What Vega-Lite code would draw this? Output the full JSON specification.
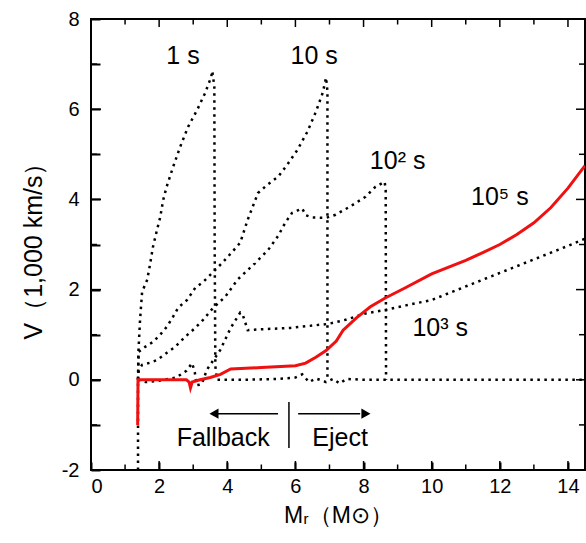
{
  "$schema": "https://vega.github.io/schema/vega-lite/v6.json",
  "width": 494,
  "height": 451,
  "autosize": "none",
  "padding": {"left": 91, "top": 19, "right": 1, "bottom": 73},
  "background": "white",
  "config": {"view": {"stroke": "black", "strokeWidth": 2}, "font": "Liberation Sans", "axis": {"ticks": true, "zindex": 1, "grid": false, "domain": false, "tickColor": "black", "tickWidth": 2, "tickOpacity": 1, "tickRound": true}},
  "datasets": {
    "curves": [
      {"s":"1","i":0,"x":1.38,"y":-2.0},{"s":"1","i":1,"x":1.38,"y":0.0},{"s":"1","i":2,"x":1.39,"y":0.6},{"s":"1","i":3,"x":1.44,"y":1.33},{"s":"1","i":4,"x":1.5,"y":1.95},{"s":"1","i":5,"x":1.65,"y":2.22},{"s":"1","i":6,"x":1.74,"y":2.59},{"s":"1","i":7,"x":1.82,"y":2.95},{"s":"1","i":8,"x":1.94,"y":3.33},{"s":"1","i":9,"x":2.03,"y":3.6},{"s":"1","i":10,"x":2.12,"y":3.99},{"s":"1","i":11,"x":2.22,"y":4.28},{"s":"1","i":12,"x":2.41,"y":4.72},{"s":"1","i":13,"x":2.62,"y":5.17},{"s":"1","i":14,"x":2.85,"y":5.61},{"s":"1","i":15,"x":3.12,"y":5.99},{"s":"1","i":16,"x":3.35,"y":6.36},{"s":"1","i":17,"x":3.53,"y":6.72},{"s":"1","i":18,"x":3.56,"y":6.85},{"s":"1","i":19,"x":3.62,"y":6.5},{"s":"1","i":20,"x":3.63,"y":3.0},{"s":"1","i":21,"x":3.65,"y":0.3},{"s":"1","i":22,"x":3.7,"y":0.0},{"s":"1","i":23,"x":4.5,"y":0.0},{"s":"1","i":24,"x":5.5,"y":0.02},{"s":"1","i":25,"x":6.0,"y":0.05},{"s":"1","i":26,"x":6.2,"y":0.12},{"s":"1","i":27,"x":6.4,"y":-0.05},{"s":"1","i":28,"x":6.6,"y":0.03},{"s":"1","i":29,"x":6.9,"y":-0.05},{"s":"1","i":30,"x":7.1,"y":0.02},{"s":"1","i":31,"x":7.3,"y":-0.08},{"s":"1","i":32,"x":7.5,"y":0.02},{"s":"1","i":33,"x":8.0,"y":0.0},{"s":"1","i":34,"x":14.5,"y":0.0},
      {"s":"10","i":0,"x":1.38,"y":0.0},{"s":"10","i":1,"x":1.4,"y":0.62},{"s":"10","i":2,"x":1.59,"y":0.73},{"s":"10","i":3,"x":1.82,"y":0.84},{"s":"10","i":4,"x":2.03,"y":1.0},{"s":"10","i":5,"x":2.23,"y":1.18},{"s":"10","i":6,"x":2.41,"y":1.4},{"s":"10","i":7,"x":2.56,"y":1.6},{"s":"10","i":8,"x":2.82,"y":1.77},{"s":"10","i":9,"x":3.06,"y":2.04},{"s":"10","i":10,"x":3.29,"y":2.17},{"s":"10","i":11,"x":3.56,"y":2.37},{"s":"10","i":12,"x":3.85,"y":2.59},{"s":"10","i":13,"x":4.15,"y":2.84},{"s":"10","i":14,"x":4.38,"y":3.04},{"s":"10","i":15,"x":4.6,"y":3.55},{"s":"10","i":16,"x":4.9,"y":4.14},{"s":"10","i":17,"x":5.17,"y":4.32},{"s":"10","i":18,"x":5.5,"y":4.51},{"s":"10","i":19,"x":5.76,"y":4.77},{"s":"10","i":20,"x":6.06,"y":5.1},{"s":"10","i":21,"x":6.35,"y":5.5},{"s":"10","i":22,"x":6.6,"y":5.94},{"s":"10","i":23,"x":6.8,"y":6.36},{"s":"10","i":24,"x":6.9,"y":6.7},{"s":"10","i":25,"x":6.94,"y":6.4},{"s":"10","i":26,"x":6.94,"y":0.0},
      {"s":"100","i":0,"x":1.38,"y":0.0},{"s":"100","i":1,"x":1.4,"y":0.2},{"s":"100","i":2,"x":1.5,"y":0.33},{"s":"100","i":3,"x":1.74,"y":0.38},{"s":"100","i":4,"x":1.94,"y":0.44},{"s":"100","i":5,"x":2.23,"y":0.6},{"s":"100","i":6,"x":2.47,"y":0.73},{"s":"100","i":7,"x":2.76,"y":0.95},{"s":"100","i":8,"x":3.06,"y":1.15},{"s":"100","i":9,"x":3.29,"y":1.33},{"s":"100","i":10,"x":3.59,"y":1.6},{"s":"100","i":11,"x":3.94,"y":1.84},{"s":"100","i":12,"x":4.3,"y":2.22},{"s":"100","i":13,"x":4.82,"y":2.59},{"s":"100","i":14,"x":5.2,"y":2.88},{"s":"100","i":15,"x":5.5,"y":3.2},{"s":"100","i":16,"x":5.7,"y":3.48},{"s":"100","i":17,"x":5.9,"y":3.7},{"s":"100","i":18,"x":6.05,"y":3.75},{"s":"100","i":19,"x":6.2,"y":3.8},{"s":"100","i":20,"x":6.3,"y":3.65},{"s":"100","i":21,"x":6.5,"y":3.6},{"s":"100","i":22,"x":6.9,"y":3.59},{"s":"100","i":23,"x":7.18,"y":3.66},{"s":"100","i":24,"x":7.6,"y":3.84},{"s":"100","i":25,"x":8.06,"y":4.06},{"s":"100","i":26,"x":8.35,"y":4.28},{"s":"100","i":27,"x":8.62,"y":4.39},{"s":"100","i":28,"x":8.65,"y":4.2},{"s":"100","i":29,"x":8.66,"y":0.0},
      {"s":"1000","i":0,"x":1.38,"y":0.0},{"s":"1000","i":1,"x":1.6,"y":-0.05},{"s":"1000","i":2,"x":2.0,"y":-0.02},{"s":"1000","i":3,"x":2.5,"y":0.05},{"s":"1000","i":4,"x":2.8,"y":0.2},{"s":"1000","i":5,"x":2.97,"y":0.37},{"s":"1000","i":6,"x":3.05,"y":0.15},{"s":"1000","i":7,"x":3.1,"y":-0.12},{"s":"1000","i":8,"x":3.25,"y":-0.1},{"s":"1000","i":9,"x":3.4,"y":0.22},{"s":"1000","i":10,"x":3.8,"y":0.67},{"s":"1000","i":11,"x":4.1,"y":1.15},{"s":"1000","i":12,"x":4.38,"y":1.49},{"s":"1000","i":13,"x":4.45,"y":1.45},{"s":"1000","i":14,"x":4.6,"y":1.1},{"s":"1000","i":15,"x":5.0,"y":1.12},{"s":"1000","i":16,"x":5.85,"y":1.15},{"s":"1000","i":17,"x":6.97,"y":1.24},{"s":"1000","i":18,"x":7.47,"y":1.33},{"s":"1000","i":19,"x":8.06,"y":1.47},{"s":"1000","i":20,"x":8.65,"y":1.55},{"s":"1000","i":21,"x":9.24,"y":1.65},{"s":"1000","i":22,"x":10.0,"y":1.77},{"s":"1000","i":23,"x":11.0,"y":2.07},{"s":"1000","i":24,"x":12.0,"y":2.37},{"s":"1000","i":25,"x":13.0,"y":2.67},{"s":"1000","i":26,"x":14.0,"y":2.97},{"s":"1000","i":27,"x":14.5,"y":3.13},
      {"s":"1e5","i":0,"x":1.37,"y":-1.0},{"s":"1e5","i":1,"x":1.38,"y":0.0},{"s":"1e5","i":2,"x":2.0,"y":0.0},{"s":"1e5","i":3,"x":2.8,"y":0.0},{"s":"1e5","i":4,"x":2.88,"y":-0.05},{"s":"1e5","i":5,"x":2.92,"y":-0.18},{"s":"1e5","i":6,"x":2.97,"y":-0.05},{"s":"1e5","i":7,"x":3.2,"y":0.0},{"s":"1e5","i":8,"x":3.5,"y":0.05},{"s":"1e5","i":9,"x":3.8,"y":0.12},{"s":"1e5","i":10,"x":4.1,"y":0.24},{"s":"1e5","i":11,"x":5.0,"y":0.27},{"s":"1e5","i":12,"x":6.0,"y":0.31},{"s":"1e5","i":13,"x":6.3,"y":0.37},{"s":"1e5","i":14,"x":6.6,"y":0.5},{"s":"1e5","i":15,"x":6.9,"y":0.65},{"s":"1e5","i":16,"x":7.2,"y":0.86},{"s":"1e5","i":17,"x":7.4,"y":1.1},{"s":"1e5","i":18,"x":7.8,"y":1.38},{"s":"1e5","i":19,"x":8.2,"y":1.62},{"s":"1e5","i":20,"x":8.65,"y":1.82},{"s":"1e5","i":21,"x":9.2,"y":2.03},{"s":"1e5","i":22,"x":10.0,"y":2.35},{"s":"1e5","i":23,"x":11.0,"y":2.65},{"s":"1e5","i":24,"x":11.5,"y":2.82},{"s":"1e5","i":25,"x":12.0,"y":3.0},{"s":"1e5","i":26,"x":12.5,"y":3.22},{"s":"1e5","i":27,"x":13.0,"y":3.48},{"s":"1e5","i":28,"x":13.5,"y":3.82},{"s":"1e5","i":29,"x":14.0,"y":4.25},{"s":"1e5","i":30,"x":14.5,"y":4.75}
    ],
    "labels": [
      {"t":"1 s","x":2.7,"y":7.18},
      {"t":"10 s","x":6.55,"y":7.18},
      {"t":"10² s","x":9.0,"y":4.86},
      {"t":"10⁵ s","x":12.0,"y":4.05},
      {"t":"10³ s","x":10.25,"y":1.15},
      {"t":"Fallback","x":3.88,"y":-1.3},
      {"t":"Eject","x":7.31,"y":-1.3}
    ],
    "arrows": [
      {"x":3.6,"x2":5.49,"y":-0.75},
      {"x":6.08,"x2":7.9,"y":-0.75}
    ],
    "heads": [
      {"x":3.61,"y":-0.75,"shape":"triangle-left"},
      {"x":8.07,"y":-0.75,"shape":"triangle-right"}
    ],
    "sep": [
      {"x":5.81,"y":-0.49,"y2":-1.51}
    ],
    "xmaj": [{"x":0},{"x":2},{"x":4},{"x":6},{"x":8},{"x":10},{"x":12},{"x":14}],
    "xmin": [{"x":1},{"x":3},{"x":5},{"x":7},{"x":9},{"x":11},{"x":13}],
    "ymaj": [{"y":-2},{"y":0},{"y":2},{"y":4},{"y":6},{"y":8}],
    "ymin": [{"y":-1},{"y":1},{"y":3},{"y":5},{"y":7}]
  },
  "layer": [
    {
      "data": {"name": "curves"},
      "transform": [{"filter": "datum.s !== '1e5'"}],
      "mark": {"type": "line", "color": "black", "strokeWidth": 2.5, "strokeDash": [2.5, 4.5], "clip": true},
      "encoding": {
        "x": {"field": "x", "type": "quantitative", "scale": {"domain": [0, 14.5], "nice": false, "zero": false},
          "axis": {"orient": "bottom", "title": "Mᵣ（M⊙）", "values": [0,1,2,3,4,5,6,7,8,9,10,11,12,13,14],
            "labelExpr": "datum.value % 2 === 0 ? toString(datum.value) : ''", "tickSize": -8,
            "labelFontSize": 20, "labelColor": "black", "labelPadding": 14, "labelFont": "Liberation Sans",
            "titleFontSize": 23, "titleFontWeight": "normal", "titleColor": "black", "titlePadding": 8, "titleFont": "Liberation Sans"}},
        "y": {"field": "y", "type": "quantitative", "scale": {"domain": [-2, 8], "nice": false, "zero": false},
          "axis": {"orient": "left", "title": "V（1,000 km/s）", "values": [-2,-1,0,1,2,3,4,5,6,7,8],
            "labelExpr": "datum.value % 2 === 0 ? toString(datum.value) : ''", "tickSize": -9,
            "labelFontSize": 20, "labelColor": "black", "labelPadding": 21, "labelFont": "Liberation Sans",
            "titleFontSize": 25, "titleFontWeight": "normal", "titleColor": "black", "titleX": -45, "titleFont": "Liberation Sans"}},
        "detail": {"field": "s", "type": "nominal"},
        "order": {"field": "i", "type": "quantitative"}
      }
    },
    {
      "data": {"name": "curves"},
      "transform": [{"filter": "datum.s === '1e5'"}],
      "mark": {"type": "line", "color": "#f01010", "strokeWidth": 3, "clip": true},
      "encoding": {
        "x": {"field": "x", "type": "quantitative", "scale": {"domain": [0, 14.5], "nice": false, "zero": false}},
        "y": {"field": "y", "type": "quantitative", "scale": {"domain": [-2, 8], "nice": false, "zero": false}},
        "order": {"field": "i", "type": "quantitative"}
      }
    },
    {
      "data": {"name": "labels"},
      "mark": {"type": "text", "fontSize": 25, "font": "Liberation Sans", "color": "black", "align": "center", "baseline": "middle"},
      "encoding": {
        "x": {"field": "x", "type": "quantitative", "scale": {"domain": [0, 14.5], "nice": false, "zero": false}},
        "y": {"field": "y", "type": "quantitative", "scale": {"domain": [-2, 8], "nice": false, "zero": false}},
        "text": {"field": "t", "type": "nominal"}
      }
    },
    {
      "data": {"name": "arrows"},
      "mark": {"type": "rule", "color": "black", "strokeWidth": 1.5},
      "encoding": {
        "x": {"field": "x", "type": "quantitative", "scale": {"domain": [0, 14.5], "nice": false, "zero": false}},
        "x2": {"field": "x2"},
        "y": {"field": "y", "type": "quantitative", "scale": {"domain": [-2, 8], "nice": false, "zero": false}}
      }
    },
    {
      "data": {"name": "heads"},
      "mark": {"type": "point", "filled": true, "color": "black", "size": 110, "opacity": 1},
      "encoding": {
        "x": {"field": "x", "type": "quantitative", "scale": {"domain": [0, 14.5], "nice": false, "zero": false}},
        "y": {"field": "y", "type": "quantitative", "scale": {"domain": [-2, 8], "nice": false, "zero": false}},
        "shape": {"field": "shape", "type": "nominal", "scale": null, "legend": null}
      }
    },
    {
      "data": {"name": "sep"},
      "mark": {"type": "rule", "color": "black", "strokeWidth": 1.5},
      "encoding": {
        "x": {"field": "x", "type": "quantitative", "scale": {"domain": [0, 14.5], "nice": false, "zero": false}},
        "y": {"field": "y", "type": "quantitative", "scale": {"domain": [-2, 8], "nice": false, "zero": false}},
        "y2": {"field": "y2"}
      }
    },
    {
      "data": {"name": "xmaj"},
      "mark": {"type": "tick", "orient": "vertical", "color": "black", "size": 18, "thickness": 1.5, "opacity": 1, "clip": true},
      "encoding": {
        "x": {"field": "x", "type": "quantitative", "scale": {"domain": [0, 14.5], "nice": false, "zero": false}},
        "y": {"datum": -2, "type": "quantitative"}
      }
    },
    {
      "data": {"name": "xmaj"},
      "mark": {"type": "tick", "orient": "vertical", "color": "black", "size": 16, "thickness": 1.5, "opacity": 1, "clip": true},
      "encoding": {
        "x": {"field": "x", "type": "quantitative", "scale": {"domain": [0, 14.5], "nice": false, "zero": false}},
        "y": {"datum": 8, "type": "quantitative"}
      }
    },
    {
      "data": {"name": "xmin"},
      "mark": {"type": "tick", "orient": "vertical", "color": "black", "size": 11, "thickness": 1.5, "opacity": 1, "clip": true},
      "encoding": {
        "x": {"field": "x", "type": "quantitative", "scale": {"domain": [0, 14.5], "nice": false, "zero": false}},
        "y": {"datum": -2, "type": "quantitative"}
      }
    },
    {
      "data": {"name": "xmin"},
      "mark": {"type": "tick", "orient": "vertical", "color": "black", "size": 11, "thickness": 1.5, "opacity": 1, "clip": true},
      "encoding": {
        "x": {"field": "x", "type": "quantitative", "scale": {"domain": [0, 14.5], "nice": false, "zero": false}},
        "y": {"datum": 8, "type": "quantitative"}
      }
    },
    {
      "data": {"name": "ymaj"},
      "mark": {"type": "tick", "orient": "horizontal", "color": "black", "size": 20, "thickness": 1.5, "opacity": 1, "clip": true},
      "encoding": {
        "y": {"field": "y", "type": "quantitative", "scale": {"domain": [-2, 8], "nice": false, "zero": false}},
        "x": {"datum": 0, "type": "quantitative"}
      }
    },
    {
      "data": {"name": "ymaj"},
      "mark": {"type": "tick", "orient": "horizontal", "color": "black", "size": 18, "thickness": 1.5, "opacity": 1, "clip": true},
      "encoding": {
        "y": {"field": "y", "type": "quantitative", "scale": {"domain": [-2, 8], "nice": false, "zero": false}},
        "x": {"datum": 14.5, "type": "quantitative"}
      }
    },
    {
      "data": {"name": "ymin"},
      "mark": {"type": "tick", "orient": "horizontal", "color": "black", "size": 12, "thickness": 1.5, "opacity": 1, "clip": true},
      "encoding": {
        "y": {"field": "y", "type": "quantitative", "scale": {"domain": [-2, 8], "nice": false, "zero": false}},
        "x": {"datum": 0, "type": "quantitative"}
      }
    },
    {
      "data": {"name": "ymin"},
      "mark": {"type": "tick", "orient": "horizontal", "color": "black", "size": 12, "thickness": 1.5, "opacity": 1, "clip": true},
      "encoding": {
        "y": {"field": "y", "type": "quantitative", "scale": {"domain": [-2, 8], "nice": false, "zero": false}},
        "x": {"datum": 14.5, "type": "quantitative"}
      }
    }
  ]
}
